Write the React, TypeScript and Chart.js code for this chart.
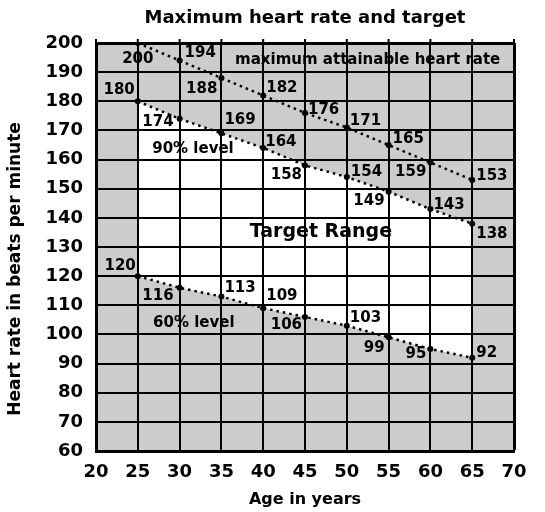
import React, { useEffect, useRef } from "react";
import { Chart, registerables } from "chart.js";

Chart.register(...registerables);

// ---- data ----
const ages = [25, 30, 35, 40, 45, 50, 55, 60, 65];
const maxRate = [200, 194, 188, 182, 176, 171, 165, 159, 153];
const level90 = [180, 174, 169, 164, 158, 154, 149, 143, 138];
const level60 = [120, 116, 113, 109, 106, 103, 99, 95, 92];
const xRange = [20, 70];
const yRange = [60, 200];
const xStep = 5;
const yStep = 10;

const titleText = "Maximum heart rate and target";
const xTitle = "Age in years";
const yTitle = "Heart rate in beats per minute";
const noteTexts = ["maximum attainable heart rate", "Target Range", "90% level", "60% level"];
const noteX = [52.5, 46.9, 31.6, 31.7];
const noteY = [194.2, 135.0, 163.5, 104.0];

// ---- label placement (style: alignment, pixel offsets) ----
type Place = [string, number, number];
const placeMax: Place[] = [
  ["c", 0, 16], ["l", 5, -7], ["r", -4, 11], ["l", 3, -7], ["l", 3, -3],
  ["l", 3, -6], ["l", 4, -6], ["r", -4, 10], ["l", 4, -4],
];
const place90: Place[] = [
  ["r", -3, -11], ["r", -6, 3], ["l", 3, -13], ["l", 2, -6], ["r", -3, 10],
  ["l", 4, -5], ["r", -4, 9], ["l", 3, -4], ["l", 4, 10],
];
const place60: Place[] = [
  ["r", -2, -10], ["r", -6, 8], ["l", 3, -8], ["l", 3, -12], ["r", -3, 8],
  ["l", 3, -8], ["r", -4, 11], ["r", -4, 5], ["l", 4, -5],
];
const noteSizes = [15, 19, 15, 15];

const FONT = "'DejaVu Sans', sans-serif";
const GRAY = "#cccccc";

const seriesValues = [maxRate, level90, level60];
const seriesPlaces = [placeMax, place90, place60];

const bgPlugin = {
  id: "plotBg",
  beforeDraw(chart: any) {
    const { ctx, chartArea: a } = chart;
    ctx.save();
    ctx.fillStyle = GRAY;
    ctx.fillRect(a.left, a.top, a.right - a.left, a.bottom - a.top);
    ctx.restore();
  },
};

const textPlugin = {
  id: "texts",
  afterDraw(chart: any) {
    const { ctx, chartArea: a } = chart;
    const xs = chart.scales.x;
    const ys = chart.scales.y;
    ctx.save();
    // small tick marks above the top frame
    ctx.strokeStyle = "#000";
    ctx.lineWidth = 2;
    xs.ticks.forEach((t: any) => {
      const px = xs.getPixelForValue(t.value);
      ctx.beginPath();
      ctx.moveTo(px, a.top - 4);
      ctx.lineTo(px, a.top);
      ctx.stroke();
    });
    ctx.fillStyle = "#000";
    ctx.textBaseline = "middle";
    // title
    ctx.textAlign = "center";
    ctx.font = `bold 18px ${FONT}`;
    ctx.fillText(titleText, (a.left + a.right) / 2, 18);
    // point labels
    ctx.font = `bold 15px ${FONT}`;
    seriesValues.forEach((vals, i) => {
      const meta = chart.getDatasetMeta(i);
      meta.data.forEach((pt: any, j: number) => {
        const [al, dx, dy] = seriesPlaces[i][j];
        ctx.textAlign = al === "l" ? "left" : al === "r" ? "right" : "center";
        ctx.fillText(String(vals[j]), pt.x + dx, pt.y + dy);
      });
    });
    ctx.textAlign = "center";
    noteTexts.forEach((t, i) => {
      ctx.font = `bold ${noteSizes[i]}px ${FONT}`;
      ctx.fillText(t, xs.getPixelForValue(noteX[i]), ys.getPixelForValue(noteY[i]));
    });
    ctx.font = `bold 16px ${FONT}`;
    ctx.fillText(xTitle, (a.left + a.right) / 2, 500);
    ctx.font = `bold 17px ${FONT}`;
    ctx.translate(15.5, (a.top + a.bottom) / 2 + 22);
    ctx.rotate(-Math.PI / 2);
    ctx.fillText(yTitle, 0, 0);
    ctx.restore();
  },
};

function lineDs(label: string, vals: number[], extra: any = {}) {
  return {
    label,
    data: ages.map((x, i) => ({ x, y: vals[i] })),
    borderColor: "#000",
    borderWidth: 2.5,
    borderDash: [2.5, 4],
    borderCapStyle: "butt",
    pointRadius: 3,
    pointBackgroundColor: "#000",
    pointBorderColor: "#000",
    pointBorderWidth: 0,
    tension: 0,
    fill: false,
    ...extra,
  };
}

export default function App() {
  const ref = useRef<HTMLCanvasElement>(null);
  useEffect(() => {
    const tickFont = { family: FONT, size: 18, weight: "bold" as const };
    const chart = new Chart(ref.current!, {
      type: "line",
      data: {
        datasets: [
          lineDs("Maximum", maxRate),
          lineDs("90% level", level90, { fill: 2, backgroundColor: "#ffffff" }),
          lineDs("60% level", level60),
        ],
      },
      options: {
        animation: false,
        responsive: false,
        layout: { padding: { top: 43, right: 31, bottom: 0, left: 0 } },
        plugins: {
          legend: { display: false },
          tooltip: { enabled: false },
          filler: { drawTime: "beforeDatasetsDraw" },
          title: { display: false },
        },
        scales: {
          x: {
            type: "linear",
            min: xRange[0],
            max: xRange[1],
            ticks: { stepSize: xStep, color: "#000", font: tickFont, padding: 11 },
            grid: {
              color: "#000",
              lineWidth: (c: any) => (c.tick && c.tick.value === xRange[1] ? 3 : 2),
              drawTicks: false,
              z: 1,
            },
            border: { color: "#000", width: 3, z: 1 },
            afterFit: (s: any) => {
              s.height = 61;
            },
          },
          y: {
            type: "linear",
            min: yRange[0],
            max: yRange[1],
            ticks: { stepSize: yStep, color: "#000", font: tickFont, padding: 13 },
            grid: {
              color: "#000",
              lineWidth: (c: any) => (c.tick && c.tick.value === yRange[1] ? 3 : 2),
              drawTicks: false,
              z: 1,
            },
            border: { color: "#000", width: 3, z: 1 },
            afterFit: (s: any) => {
              s.width = 96;
            },
          },
        },
      } as any,
      plugins: [bgPlugin, textPlugin],
    });
    return () => chart.destroy();
  }, []);
  return (
    <div style={{ position: "absolute", left: 0, top: 0, width: 545, height: 512, background: "#fff" }}>
      <canvas ref={ref} width={545} height={512} style={{ display: "block" }} />
    </div>
  );
}
